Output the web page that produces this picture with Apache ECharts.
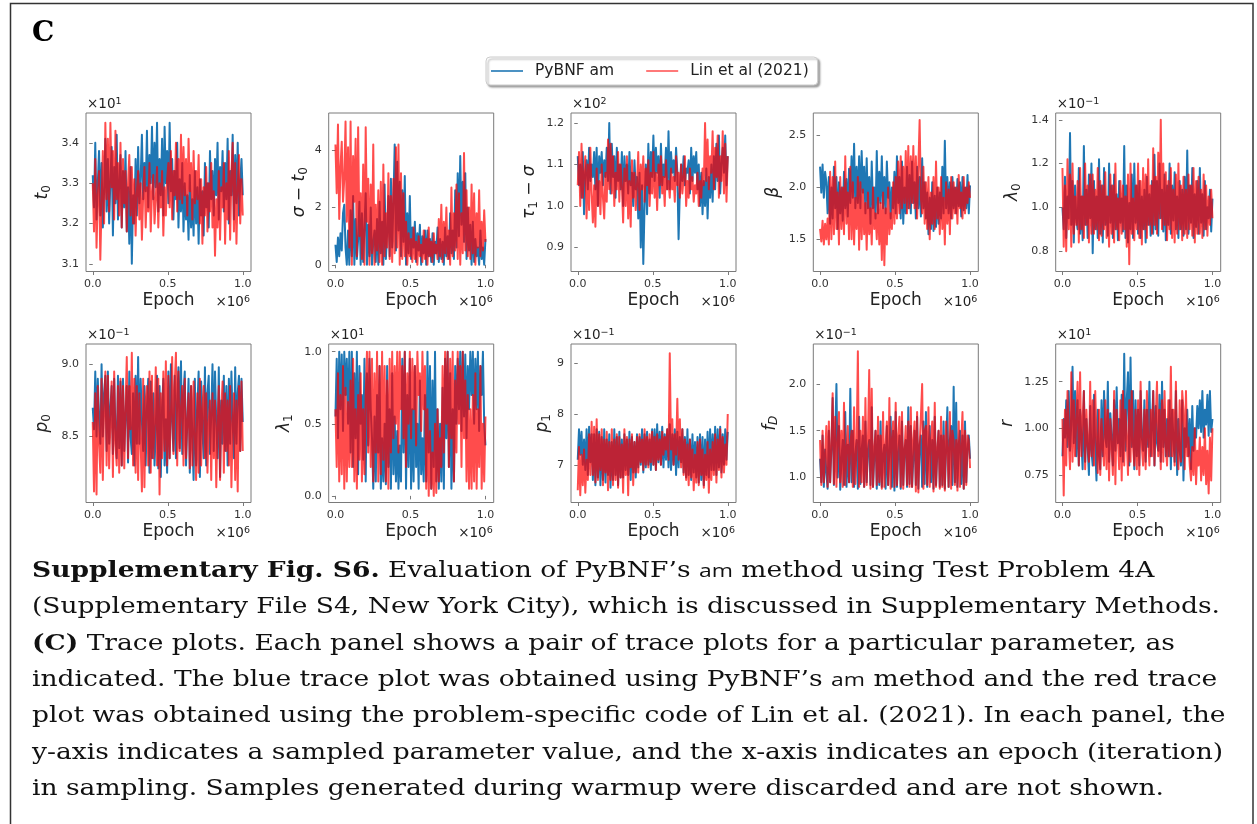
<!DOCTYPE html>
<html>
<head>
<meta charset="utf-8">
<title>Supplementary Fig. S6 (C) trace plots</title>
<script src="https://cdn.jsdelivr.net/npm/echarts@6/dist/echarts.min.js"></script>
<style>
  html, body { margin: 0; padding: 0; background: #ffffff; }
  #chart { width: 1257px; height: 824px; }
</style>
</head>
<body>
<div id="chart"></div>
<script>
// ---- sampled traces (every trace uses the same thinned epoch grid, in units of 1e6) ----
const nSamples = 120;

// t0 (x10^1)
const t0_pybnf = [
  3.32,3.24,3.40,3.21,3.30,3.38,3.22,3.35,3.19,3.28,3.41,3.23,
  3.36,3.20,3.31,3.39,3.17,3.34,3.25,3.42,3.21,3.30,3.37,3.19,
  3.33,3.24,3.38,3.18,3.29,3.15,3.34,3.10,3.27,3.20,3.36,3.22,
  3.39,3.25,3.31,3.42,3.26,3.35,3.28,3.43,3.24,3.37,3.30,3.44,
  3.26,3.40,3.29,3.45,3.23,3.36,3.27,3.41,3.22,3.44,3.30,3.38,
  3.25,3.45,3.28,3.36,3.21,3.33,3.26,3.40,3.19,3.31,3.23,3.35,
  3.18,3.30,3.21,3.27,3.16,3.32,3.19,3.26,3.17,3.33,3.20,3.29,
  3.15,3.31,3.22,3.28,3.17,3.35,3.24,3.30,3.19,3.38,3.26,3.33,
  3.22,3.36,3.27,3.40,3.21,3.34,3.28,3.38,3.23,3.35,3.26,3.41,
  3.20,3.33,3.27,3.42,3.21,3.37,3.25,3.40,3.22,3.30,3.36,3.27
];
const t0_lin = [
  3.30,3.18,3.36,3.14,3.27,3.33,3.11,3.25,3.38,3.20,3.45,3.26,
  3.41,3.23,3.45,3.29,3.38,3.21,3.43,3.26,3.35,3.22,3.40,3.19,
  3.36,3.25,3.33,3.18,3.30,3.37,3.22,3.34,3.20,3.31,3.17,3.28,
  3.33,3.21,3.30,3.16,3.27,3.34,3.19,3.29,3.23,3.35,3.18,3.28,
  3.32,3.20,3.26,3.34,3.19,3.30,3.24,3.33,3.17,3.29,3.22,3.31,
  3.35,3.24,3.38,3.21,3.33,3.27,3.40,3.23,3.36,3.26,3.42,3.25,
  3.39,3.27,3.36,3.22,3.41,3.28,3.35,3.21,3.38,3.25,3.33,3.26,
  3.37,3.20,3.31,3.15,3.29,3.22,3.34,3.18,3.30,3.23,3.35,3.19,
  3.28,3.12,3.26,3.19,3.33,3.16,3.29,3.24,3.35,3.15,3.30,3.21,
  3.38,3.16,3.32,3.40,3.18,3.35,3.15,3.29,3.37,3.20,3.31,3.22
];

// sigma - t0
const sigma_pybnf = [
  0.70,0.10,0.95,0.30,1.10,0.50,1.80,2.10,0.60,0.00,1.20,0.00,
  1.90,0.30,2.40,0.00,1.60,0.20,0.90,2.20,0.00,1.80,0.10,1.30,
  2.50,0.00,1.40,0.30,2.00,0.00,0.80,1.20,0.10,1.60,0.00,2.20,
  0.40,1.50,0.00,2.80,0.20,1.10,2.40,0.30,3.00,0.60,2.20,4.20,
  0.50,3.60,1.20,2.90,0.30,2.60,0.80,3.10,0.00,1.80,0.40,2.40,
  0.20,1.30,0.60,1.50,0.10,1.10,0.50,1.40,0.00,1.00,0.40,1.20,
  0.00,1.20,0.30,0.90,0.10,1.10,0.00,0.80,0.40,1.30,0.10,0.90,
  0.20,0.80,0.00,1.30,0.30,1.00,0.20,1.80,0.40,1.20,0.20,2.60,
  0.60,3.20,1.00,3.80,1.40,2.90,0.80,3.20,0.20,2.00,0.50,1.40,
  0.00,1.50,0.10,0.90,0.30,0.60,0.00,1.20,0.20,0.60,0.00,0.90
];
const sigma_lin = [
  4.20,2.50,4.90,1.60,3.40,4.30,2.20,3.00,5.00,1.50,4.10,0.60,
  5.00,0.00,3.80,2.20,4.40,0.30,4.80,1.00,2.50,0.20,3.50,0.00,
  4.80,1.50,3.00,0.00,2.80,0.40,4.20,0.00,2.10,0.50,2.60,0.10,
  2.90,0.00,3.50,0.30,1.80,0.60,3.20,0.20,2.40,0.10,3.00,0.40,
  4.10,0.60,4.20,0.00,3.20,0.20,2.50,0.30,1.50,0.00,1.10,0.30,
  0.90,0.10,1.30,0.20,0.80,0.00,1.00,0.30,0.70,0.10,1.20,0.20,
  0.90,0.00,1.30,0.30,0.80,0.10,1.10,0.40,0.70,0.20,1.60,0.30,
  2.10,0.10,1.50,0.40,2.00,0.20,1.20,0.00,2.70,0.30,1.80,0.50,
  2.80,0.20,2.50,0.00,1.80,0.40,3.90,0.50,2.60,0.30,2.00,0.20,
  2.80,0.40,2.50,0.00,1.80,0.60,2.60,0.30,1.50,0.50,1.90,0.80
];

// tau1 - sigma (x10^2)
const tau_pybnf = [
  1.12,1.05,1.10,1.02,1.13,0.98,1.08,1.11,1.04,1.14,1.06,1.10,
  1.07,1.13,1.04,1.14,1.00,1.12,1.08,1.13,1.05,1.11,1.07,1.14,
  1.06,1.20,1.03,1.15,1.07,1.12,1.02,1.14,1.06,1.10,1.04,1.13,
  1.00,1.12,1.06,1.10,1.03,1.13,1.05,1.08,1.00,1.11,1.04,1.07,
  0.97,1.08,0.90,1.05,0.86,1.00,1.10,0.98,1.15,1.03,1.13,1.07,
  1.17,1.06,1.14,1.08,1.12,1.02,1.15,1.05,1.10,1.07,1.14,1.04,
  1.18,1.04,1.13,1.08,1.11,1.06,1.14,1.08,0.92,1.04,1.10,1.06,
  1.12,1.05,1.09,1.08,1.11,1.03,1.14,1.06,1.12,1.08,1.13,1.04,
  1.10,1.00,1.08,0.98,1.06,1.00,1.09,0.97,1.07,1.02,1.10,1.01,
  1.12,1.04,1.15,1.06,1.17,1.03,1.10,1.14,1.08,1.17,1.05,1.12
];
const tau_lin = [
  1.05,1.13,1.00,1.15,1.02,1.08,1.12,0.97,1.10,0.99,1.14,1.03,
  0.96,1.05,0.95,1.09,1.00,1.06,0.98,1.10,1.02,0.97,1.08,1.01,
  1.16,1.04,1.15,1.03,1.12,1.00,1.08,1.04,1.13,1.01,1.10,1.05,
  0.96,1.09,1.00,1.12,0.97,1.06,0.95,1.11,1.02,1.08,0.99,1.05,
  1.13,0.99,1.10,1.04,1.12,1.01,1.09,1.05,1.11,1.00,1.08,1.03,
  1.13,1.02,1.08,0.99,1.10,1.05,1.12,1.03,1.07,1.00,1.11,1.04,
  1.06,1.02,1.09,1.04,1.07,1.01,1.12,1.05,1.08,1.02,1.10,1.03,
  1.07,1.12,1.00,1.06,1.02,1.09,1.04,1.07,1.01,1.05,1.03,1.08,
  1.00,1.06,1.02,1.09,1.05,1.20,1.06,1.16,1.04,1.12,1.08,1.18,
  1.04,1.14,1.07,1.17,1.02,1.12,1.06,1.18,1.03,1.15,1.01,1.12
];

// beta
const beta_pybnf = [
  2.20,1.95,2.22,1.90,2.15,2.05,1.75,2.10,1.65,2.00,1.70,2.20,
  1.80,2.10,1.60,2.05,1.75,2.00,1.68,2.15,1.80,2.08,1.72,2.18,
  1.85,2.30,1.90,2.42,1.80,2.20,1.85,2.30,1.80,2.35,1.95,2.20,
  1.75,2.28,1.80,2.10,1.65,2.25,1.80,2.00,1.70,2.35,1.75,2.15,
  1.85,2.30,1.80,2.10,1.75,2.25,1.90,2.05,1.70,2.00,1.80,2.15,
  1.75,2.30,1.85,2.10,1.70,2.25,1.65,2.00,1.75,2.20,1.80,2.12,
  1.75,2.25,1.85,2.05,1.70,2.20,1.80,2.10,1.72,2.28,1.80,2.05,
  1.70,1.95,1.55,1.90,1.60,2.05,1.58,1.92,1.62,2.00,1.65,1.95,
  1.70,2.20,1.75,2.45,1.80,2.10,1.75,2.05,1.70,2.10,1.80,2.00,
  1.75,2.08,1.82,2.05,1.72,2.10,1.78,2.00,1.80,2.12,1.75,2.02
];
const beta_lin = [
  1.60,1.48,1.68,1.45,1.65,1.50,1.70,1.45,2.15,1.50,2.10,1.55,
  2.25,1.60,1.95,1.45,2.10,1.60,2.00,1.55,2.30,1.65,1.95,1.50,
  2.20,1.50,2.05,1.45,1.90,1.60,2.10,1.40,2.05,1.50,1.98,1.55,
  1.85,1.40,1.95,1.55,1.80,1.45,2.00,1.60,1.75,1.50,1.90,1.45,
  1.85,1.30,1.95,1.25,1.80,1.45,2.00,1.55,1.75,1.60,2.05,1.65,
  2.10,1.70,2.25,1.75,2.30,1.80,2.20,1.85,2.35,1.75,2.40,1.80,
  2.30,1.85,2.40,1.80,2.30,1.70,2.20,2.65,1.90,1.75,2.20,1.65,
  2.05,1.60,2.10,1.50,1.95,1.65,2.10,1.60,2.25,1.70,2.00,1.55,
  2.10,1.60,1.90,1.45,2.05,1.65,1.98,1.55,2.10,1.70,2.05,1.75,
  2.00,1.65,2.12,1.80,1.95,1.70,2.10,1.75,2.00,1.85,2.05,1.90
];

// lambda0 (x10^-1)
const lambda0_pybnf = [
  1.00,0.90,1.14,0.86,1.05,0.95,1.34,0.92,1.12,0.84,1.10,0.95,
  0.90,1.18,0.88,1.05,0.85,1.28,0.92,1.08,0.86,1.15,0.95,1.20,
  0.79,1.12,0.90,1.05,0.86,1.22,0.88,1.10,0.84,1.18,0.92,1.05,
  0.87,1.20,0.93,1.10,0.86,1.15,0.90,1.06,0.85,1.12,0.93,1.04,
  0.89,1.28,0.86,1.10,0.84,1.02,0.90,1.15,0.86,1.20,0.93,1.10,
  0.88,1.12,0.86,1.05,0.90,1.08,0.84,1.14,0.92,1.06,0.87,1.12,
  0.88,1.24,0.90,1.12,0.87,1.20,0.95,1.08,0.89,1.15,0.85,1.10,
  0.92,1.20,0.88,1.10,0.94,1.16,0.90,1.05,0.86,1.12,0.90,1.08,
  0.87,1.14,0.90,1.26,0.88,1.10,0.93,1.18,0.86,1.06,0.91,1.12,
  0.88,1.18,0.93,1.06,0.87,1.12,0.90,1.00,0.95,1.08,0.89,1.04
];
const lambda0_lin = [
  1.18,0.82,1.10,0.80,1.22,0.90,1.15,0.82,1.20,0.88,1.05,0.92,
  1.12,0.84,1.18,0.90,1.05,0.86,1.20,0.92,1.10,0.84,1.15,0.88,
  1.15,0.88,1.08,0.90,1.18,0.85,1.12,0.87,1.10,0.90,1.16,0.86,
  1.05,0.82,1.15,0.88,1.10,0.84,1.20,0.90,1.04,0.85,1.12,0.88,
  1.10,0.90,1.05,0.82,1.15,0.74,1.20,0.88,1.04,0.85,1.10,0.90,
  1.20,0.86,1.12,0.83,1.18,0.90,1.15,0.86,1.22,0.92,1.10,0.88,
  1.27,0.92,1.14,0.88,1.25,0.95,1.40,0.90,1.20,0.92,1.16,0.85,
  1.12,0.90,1.18,0.86,1.08,0.84,1.15,0.88,1.20,0.90,1.10,0.85,
  1.14,0.88,1.08,0.86,1.15,0.90,1.10,0.87,1.18,0.84,1.12,0.88,
  1.14,0.88,1.08,0.86,1.15,0.90,1.10,0.87,1.05,0.92,1.08,0.95
];

// p0 (x10^-1)
const p0_pybnf = [
  8.70,8.55,8.95,8.50,8.90,8.62,8.45,9.00,8.50,8.80,8.92,8.40,
  8.95,8.45,8.70,8.85,8.38,8.90,8.55,8.35,8.92,8.42,8.88,8.30,
  8.90,8.40,8.65,8.85,8.32,8.95,8.50,8.38,8.80,8.30,8.92,8.45,
  9.05,8.45,8.90,8.60,8.40,8.85,8.30,8.70,8.90,8.25,8.88,8.35,
  8.80,8.30,8.55,8.92,8.28,8.85,8.22,8.70,8.90,8.30,8.62,8.25,
  8.95,8.35,9.00,8.60,8.40,8.92,8.35,8.75,8.98,8.42,9.02,8.38,
  8.80,8.95,8.30,8.60,8.90,8.25,8.85,8.50,8.20,8.90,8.30,8.70,
  8.95,8.22,8.88,8.55,8.35,8.98,8.30,8.80,8.92,8.38,8.65,9.00,
  8.40,8.95,8.60,8.35,8.98,8.22,8.75,8.45,8.92,8.40,8.85,8.30,
  8.90,8.45,8.95,8.60,8.35,8.98,8.45,8.80,8.92,8.40,8.90,8.60
];
const p0_lin = [
  8.60,8.12,8.80,8.10,8.85,8.45,8.25,8.90,8.20,8.70,8.95,8.30,
  8.92,8.28,8.60,8.88,8.22,8.95,8.45,8.30,8.85,8.25,8.90,8.30,
  8.85,8.28,8.70,9.05,8.35,8.85,8.55,9.08,8.30,8.90,8.25,8.85,
  8.20,8.80,8.45,8.12,8.90,8.15,8.75,8.85,8.30,8.95,8.25,8.92,
  8.35,8.60,8.98,8.30,8.90,8.10,8.80,8.35,8.95,8.40,9.02,8.30,
  8.92,8.35,8.65,9.05,8.38,8.85,9.08,8.30,8.95,8.40,8.70,8.85,
  8.30,8.90,8.35,8.60,8.80,8.28,8.85,8.30,8.88,8.50,8.20,8.80,
  8.25,8.90,8.30,8.70,8.85,8.35,8.80,8.25,8.60,8.75,8.20,8.80,
  8.35,8.75,8.15,8.60,8.85,8.20,8.70,8.88,8.25,8.80,8.40,8.75,
  8.30,8.85,8.15,8.60,8.80,8.20,8.75,8.12,8.85,8.40,8.88,8.40
];

// lambda1 (x10^1)
const lambda1_pybnf = [
  0.55,0.95,0.40,1.00,0.60,0.98,0.45,1.00,0.70,0.95,0.50,1.00,
  0.30,1.00,0.20,0.85,0.40,1.00,0.15,0.90,0.50,0.70,0.25,0.95,
  0.10,0.85,0.35,0.95,0.60,0.40,0.05,0.55,0.10,0.70,0.30,0.90,
  0.05,0.40,0.10,0.50,0.08,0.90,0.20,0.60,0.05,0.85,0.15,0.55,
  0.10,0.45,0.05,0.35,0.10,0.95,0.30,1.00,0.05,0.70,0.20,0.95,
  0.05,0.60,0.10,0.90,0.20,0.50,0.05,0.80,0.15,0.40,0.10,0.70,
  0.10,1.00,0.30,0.90,0.05,0.80,0.20,1.00,0.10,0.60,0.05,0.50,
  0.10,0.75,0.05,0.95,0.40,1.00,0.20,0.85,0.05,0.60,0.10,0.90,
  0.50,0.95,0.60,1.00,0.45,1.00,0.55,0.98,0.40,0.90,0.60,1.00,
  0.70,1.00,0.50,0.95,0.60,1.00,0.45,0.90,0.70,1.00,0.50,0.35
];
const lambda1_lin = [
  0.60,0.20,0.85,0.10,0.70,0.15,0.90,0.05,0.75,0.10,0.65,0.20,
  0.80,0.20,0.95,0.10,0.60,0.05,0.70,0.25,0.85,0.10,0.60,0.15,
  0.70,1.00,0.30,1.00,0.20,0.95,0.10,0.85,0.30,1.00,0.10,0.90,
  0.15,1.00,0.25,0.90,0.10,0.80,0.05,0.95,0.30,1.00,0.40,0.90,
  0.50,1.00,0.30,1.00,0.60,0.90,0.40,1.00,0.20,0.85,0.50,1.00,
  0.40,0.95,0.60,0.90,0.35,1.00,0.70,0.85,0.45,1.00,0.60,0.90,
  0.05,0.60,0.00,0.45,0.05,0.30,0.00,0.50,0.02,0.60,0.10,0.40,
  0.20,0.90,0.30,1.00,0.50,1.00,0.20,0.95,0.40,1.00,0.10,0.80,
  0.30,1.00,0.50,0.90,0.20,1.00,0.40,0.80,0.10,0.70,0.05,0.60,
  0.05,0.70,0.10,0.85,0.05,0.60,0.20,0.90,0.05,0.50,0.10,0.55
];

// p1 (x10^-1)
const p1_pybnf = [
  7.10,7.70,7.20,7.65,7.00,7.50,6.90,7.70,6.80,7.75,7.05,7.60,
  6.70,7.60,6.60,7.70,6.75,7.65,6.60,7.55,6.70,7.70,6.65,7.50,
  6.80,7.60,6.55,7.45,6.70,7.70,6.80,7.55,6.60,7.65,6.75,7.50,
  6.75,7.60,6.90,7.50,6.80,7.65,6.70,7.55,6.85,7.45,6.75,7.60,
  6.95,7.55,7.00,7.70,6.85,7.60,6.95,7.65,7.00,7.50,6.90,7.70,
  7.00,7.70,6.90,7.80,7.05,7.65,7.00,7.75,6.95,7.60,7.10,7.70,
  6.95,7.80,6.90,7.60,7.00,7.70,6.80,7.65,6.95,7.55,7.05,7.70,
  6.85,7.55,6.75,7.70,6.80,7.50,6.70,7.60,6.85,7.45,6.75,7.55,
  6.65,7.60,6.70,7.55,6.60,7.50,6.80,7.65,6.75,7.70,6.90,7.60,
  6.90,7.75,6.80,7.70,6.95,7.75,6.85,7.60,7.00,7.70,7.10,7.65
];
const p1_lin = [
  6.50,7.35,6.40,7.20,6.60,7.30,6.45,7.10,6.70,7.60,6.80,7.85,
  6.80,7.75,6.65,7.90,6.70,7.60,6.90,7.70,6.60,7.50,6.85,7.65,
  6.50,7.45,6.70,7.70,6.60,7.50,6.70,7.60,6.55,7.55,6.75,7.40,
  6.45,7.70,6.80,7.55,6.40,7.50,6.95,7.60,6.60,7.45,6.85,7.55,
  6.85,7.60,7.05,7.50,6.90,7.70,7.00,7.55,6.95,7.60,7.05,7.65,
  7.00,7.55,6.90,7.60,7.10,7.50,7.00,7.65,7.20,7.55,7.30,7.70,
  7.10,9.20,7.30,7.90,7.00,7.60,7.20,8.30,7.10,7.90,6.95,7.70,
  6.80,7.50,6.70,7.40,6.60,7.50,6.75,7.30,6.50,7.20,6.65,7.45,
  6.60,7.50,6.80,7.30,6.55,7.20,6.70,7.45,6.45,7.30,6.70,7.45,
  6.80,7.60,6.65,7.50,6.90,7.70,6.75,7.55,6.85,7.40,7.00,8.00
];

// f_D (x10^-1)
const fD_pybnf = [
  1.20,0.95,1.45,0.90,1.30,1.05,0.88,1.50,0.95,1.30,1.85,0.92,
  1.40,2.00,1.00,1.55,0.87,1.20,1.40,0.92,1.70,0.90,1.35,0.95,
  1.95,0.95,1.50,0.90,1.25,1.40,0.88,1.65,0.93,1.30,1.45,0.90,
  1.60,0.95,1.30,1.40,0.92,1.75,0.90,1.20,1.50,0.88,1.45,0.92,
  1.60,0.90,1.25,1.35,0.88,1.55,0.92,1.30,1.65,0.90,1.50,0.86,
  1.70,0.90,1.25,1.45,0.88,1.60,0.92,1.30,1.40,0.90,1.75,0.93,
  1.55,0.90,1.20,1.50,0.92,1.65,0.88,1.35,1.45,0.90,1.60,0.93,
  1.70,0.90,1.30,1.55,0.95,1.40,0.88,1.65,0.92,1.25,1.50,0.90,
  1.45,0.92,1.60,0.88,1.30,1.75,0.90,1.40,1.55,0.92,1.97,0.95,
  1.80,0.90,1.35,1.50,0.93,1.45,0.88,1.60,0.95,1.30,1.45,1.20
];
const fD_lin = [
  1.40,0.92,1.50,0.95,1.25,1.55,0.90,1.60,0.95,1.35,1.90,0.93,
  1.65,0.90,1.40,1.70,0.95,1.50,0.90,1.80,0.92,1.30,1.55,0.95,
  1.35,1.50,0.90,1.75,0.93,1.30,2.35,0.90,1.50,0.95,1.65,0.90,
  1.85,0.92,1.40,2.15,0.88,1.95,0.90,1.30,1.50,0.92,1.65,0.95,
  1.45,0.88,1.70,0.90,1.35,1.60,0.92,1.85,0.88,1.40,1.60,0.90,
  1.80,0.92,1.45,1.65,0.90,1.70,0.88,1.30,1.55,0.92,1.60,0.90,
  1.75,0.90,1.40,1.60,0.85,1.70,0.84,1.35,1.65,2.00,0.88,1.50,
  1.55,0.92,1.75,0.90,1.40,1.60,0.85,1.80,0.90,1.30,1.50,0.88,
  1.65,0.90,1.45,0.86,1.60,1.30,0.90,1.70,0.88,1.50,1.40,0.92,
  1.40,0.86,1.60,0.90,1.35,1.70,0.88,1.50,0.92,1.45,1.40,1.10
];

// r (x10^1)
const r_pybnf = [
  0.85,1.05,0.95,1.15,0.90,1.20,0.88,1.02,1.33,0.92,1.20,0.85,
  1.15,0.80,1.10,0.95,0.78,1.20,0.82,1.05,0.90,0.75,1.12,0.88,
  0.80,1.18,0.90,0.72,1.10,0.85,0.78,1.15,0.85,1.20,0.95,0.90,
  1.25,0.82,1.08,0.95,0.80,1.15,0.88,1.22,0.92,1.05,0.85,1.18,
  0.82,1.40,0.88,1.15,1.30,0.80,1.38,0.90,1.20,0.78,1.15,0.85,
  1.10,0.80,1.20,0.95,0.88,1.15,0.82,1.10,0.90,1.25,0.85,1.00,
  1.20,0.80,1.12,0.92,0.88,1.18,0.82,1.25,0.90,1.10,0.85,1.05,
  0.85,1.15,0.78,1.10,0.95,0.82,1.20,0.75,1.05,0.88,0.80,1.15,
  0.72,1.00,0.90,1.10,0.85,1.05,0.78,1.12,0.88,1.00,0.95,1.12,
  1.00,1.15,0.98,1.20,0.95,1.10,1.02,1.18,0.96,1.20,0.98,1.05
];
const r_lin = [
  1.05,0.64,1.10,0.80,1.20,0.95,0.78,1.30,0.82,1.15,0.85,1.05,
  1.25,0.80,1.30,0.85,1.05,1.20,0.78,1.10,0.92,0.82,1.25,0.85,
  1.15,0.80,1.20,0.95,0.76,1.10,0.75,1.05,0.90,0.80,1.15,0.78,
  1.10,0.72,1.05,0.90,0.75,1.20,0.70,1.10,0.95,0.78,1.15,0.72,
  1.20,0.80,1.10,0.95,0.75,1.15,0.82,1.20,0.90,0.80,1.10,0.78,
  1.15,0.75,1.25,0.90,0.80,1.10,0.78,1.20,0.95,0.80,1.10,0.85,
  1.20,0.80,1.05,1.25,0.85,1.10,0.78,1.15,0.82,1.20,0.90,0.80,
  1.15,0.85,1.33,0.85,1.10,0.80,1.25,0.90,0.78,1.15,0.82,1.20,
  1.10,0.78,1.20,0.85,0.95,0.80,0.72,0.90,0.75,1.00,0.70,0.88,
  0.80,0.95,0.72,0.90,0.75,1.00,0.70,0.88,0.65,0.95,0.72,1.00
];

// ---- tick labels ----
const epochTicks = ['0.0', '0.5', '1.0'];
const t0Ticks = ['3.1', '3.2', '3.3', '3.4'];
const sigmaTicks = ['0', '2', '4'];
const tauTicks = ['0.9', '1.0', '1.1', '1.2'];
const betaTicks = ['1.5', '2.0', '2.5'];
const lambda0Ticks = ['0.8', '1.0', '1.2', '1.4'];
const p0Ticks = ['8.5', '9.0'];
const lambda1Ticks = ['0.0', '0.5', '1.0'];
const p1Ticks = ['7', '8', '9'];
const fDTicks = ['1.0', '1.5', '2.0'];
const rTicks = ['0.75', '1.00', '1.25'];

// ---- caption ----
const captionLines = [
  '{b|Supplementary Fig. S6.} Evaluation of PyBNF\u2019s {s|am} method using Test Problem 4A',
  '(Supplementary File S4, New York City), which is discussed in Supplementary Methods.',
  '{b|(C)} Trace plots. Each panel shows a pair of trace plots for a particular parameter, as',
  'indicated. The blue trace plot was obtained using PyBNF\u2019s {s|am} method and the red trace',
  'plot was obtained using the problem-specific code of Lin et al. (2021). In each panel, the',
  'y-axis indicates a sampled parameter value, and the x-axis indicates an epoch (iteration)',
  'in sampling. Samples generated during warmup were discarded and are not shown.'
];

// ---- panel definitions: label (rich math text), axis offset exponent, y range ----
const panels = [
  { label: '{i|t}{s|0}',              exp: '1',  yRange: [3.081, 3.474], ticks: t0Ticks,      a: t0_pybnf,      b: t0_lin,      labelGap: 43 },
  { label: '{i|\u03c3}{n| \u2212 }{i|t}{s|0}', exp: null, yRange: [-0.235, 5.3], ticks: sigmaTicks, a: sigma_pybnf, b: sigma_lin, labelGap: 29 },
  { label: '{i|\u03c4}{s|1}{n| \u2212 }{i|\u03c3}', exp: '2', yRange: [0.842, 1.224], ticks: tauTicks, a: tau_pybnf, b: tau_lin, labelGap: 41 },
  { label: '{i|\u03b2}',              exp: null, yRange: [1.19, 2.717],  ticks: betaTicks,    a: beta_pybnf,    b: beta_lin,    labelGap: 40 },
  { label: '{i|\u03bb}{s|0}',         exp: '\u22121', yRange: [0.707, 1.431], ticks: lambda0Ticks, a: lambda0_pybnf, b: lambda0_lin, labelGap: 43 },
  { label: '{i|p}{s|0}',              exp: '\u22121', yRange: [8.044, 9.14],  ticks: p0Ticks,      a: p0_pybnf,      b: p0_lin,      labelGap: 43 },
  { label: '{i|\u03bb}{s|1}',         exp: '1',  yRange: [-0.046, 1.053], ticks: lambda1Ticks, a: lambda1_pybnf, b: lambda1_lin, labelGap: 44 },
  { label: '{i|p}{s|1}',              exp: '\u22121', yRange: [6.258, 9.38],  ticks: p1Ticks,      a: p1_pybnf,      b: p1_lin,      labelGap: 28 },
  { label: '{i|f}{si|D}',             exp: '\u22121', yRange: [0.733, 2.427], ticks: fDTicks,      a: fD_pybnf,      b: fD_lin,      labelGap: 43 },
  { label: '{i|r}',                   exp: '1',  yRange: [0.602, 1.452], ticks: rTicks,       a: r_pybnf,       b: r_lin,       labelGap: 48 }
];

// ---- layout ----
const colLeft = [86, 328.7, 571, 813.3, 1055.7];
const rowTop = [113, 344];
const boxW = 165, boxH = 158.5;
const xRange = [-0.045, 1.055];

const blue = '#1f77b4';
const red = '#ff0000';
const ink = '#222222';
const tickInk = '#333333';
const frameInk = '#7a7a7a';
const sans = 'DejaVu Sans';
const serif = 'DejaVu Serif';
const traceWidth = 2.0;

const epochs = Array.from({ length: nSamples }, (_, i) => i / (nSamples - 1));

function labelFormatter(labels) {
  const values = labels.map(Number);
  return v => {
    const k = values.findIndex(t => Math.abs(t - v) < 1e-9);
    return k >= 0 ? labels[k] : '';
  };
}

const mathRich = {
  i:  { fontFamily: sans, fontStyle: 'italic', fontSize: 17, lineHeight: 20, fill: ink },
  n:  { fontFamily: sans, fontSize: 17, lineHeight: 20, fill: ink },
  s:  { fontFamily: sans, fontSize: 12, lineHeight: 9, verticalAlign: 'bottom', fill: ink },
  si: { fontFamily: sans, fontStyle: 'italic', fontSize: 12, lineHeight: 9, verticalAlign: 'bottom', fill: ink }
};
const offsetRich = {
  a: { fontFamily: sans, fontSize: 13.5, lineHeight: 16, fill: ink },
  e: { fontFamily: sans, fontSize: 9.5, lineHeight: 9, verticalAlign: 'top', fill: ink }
};

const grids = [], xAxes = [], yAxes = [], series = [], graphics = [];

panels.forEach((p, k) => {
  const left = colLeft[k % 5];
  const top = rowTop[Math.floor(k / 5)];
  grids.push({
    left: left, top: top, width: boxW, height: boxH,
    show: true, borderColor: frameInk, borderWidth: 1, backgroundColor: 'transparent'
  });
  const xVals = epochTicks.map(Number);
  xAxes.push({
    type: 'value', gridIndex: k, min: xRange[0], max: xRange[1],
    axisLine: { show: false }, splitLine: { show: false },
    axisTick: { show: true, length: 3.5, lineStyle: { color: frameInk, width: 1 }, customValues: xVals },
    axisLabel: { customValues: xVals, formatter: labelFormatter(epochTicks), fontFamily: sans, fontSize: 11, color: tickInk, margin: 7 },
    name: 'Epoch', nameLocation: 'middle', nameGap: 21,
    nameTextStyle: { fontFamily: sans, fontSize: 17, color: ink }
  });
  const yVals = p.ticks.map(Number);
  yAxes.push({
    type: 'value', gridIndex: k, min: p.yRange[0], max: p.yRange[1],
    axisLine: { show: false }, splitLine: { show: false },
    axisTick: { show: true, length: 3.5, lineStyle: { color: frameInk, width: 1 }, customValues: yVals },
    axisLabel: { customValues: yVals, formatter: labelFormatter(p.ticks), fontFamily: sans, fontSize: 11, color: tickInk, margin: 7 }
  });
  series.push({
    name: 'PyBNF am', type: 'line', xAxisIndex: k, yAxisIndex: k,
    data: p.a.map((v, i) => [epochs[i], v]),
    symbol: 'none', showSymbol: false, silent: true, z: 2,
    lineStyle: { color: blue, width: traceWidth, join: 'round' }, itemStyle: { color: blue }
  });
  series.push({
    name: 'Lin et al (2021)', type: 'line', xAxisIndex: k, yAxisIndex: k,
    data: p.b.map((v, i) => [epochs[i], v]),
    symbol: 'none', showSymbol: false, silent: true, z: 3,
    lineStyle: { color: red, width: traceWidth, opacity: 0.7, join: 'round' }, itemStyle: { color: red, opacity: 0.7 }
  });

  // rotated y label
  graphics.push({
    type: 'text', x: left - p.labelGap, y: top + boxH / 2, rotation: Math.PI / 2, silent: true,
    style: { text: p.label, rich: mathRich, align: 'center', verticalAlign: 'middle', fontFamily: sans, fontSize: 17, fill: ink }
  });
  // y offset (scale) text above the frame
  if (p.exp) {
    graphics.push({
      type: 'text', x: left + 1, y: top - 0.5, silent: true,
      style: { text: '{a|\u00d710}{e|' + p.exp + '}', rich: offsetRich, align: 'left', verticalAlign: 'bottom', fill: ink }
    });
  }
  // x offset text at the lower right
  graphics.push({
    type: 'text', x: left + boxW - 1, y: top + boxH + 39, silent: true,
    style: { text: '{a|\u00d710}{e|6}', rich: offsetRich, align: 'right', verticalAlign: 'bottom', fill: ink }
  });
});

// outer frame and panel letter
graphics.push({
  type: 'rect', silent: true, z: 0,
  shape: { x: 10.5, y: 3.5, width: 1242.5, height: 840 },
  style: { fill: 'none', stroke: '#333333', lineWidth: 1.5 }
});
graphics.push({
  type: 'text', x: 32, y: 34, silent: true,
  style: { text: 'C', fontFamily: serif, fontWeight: 'bold', fontSize: 28, fill: '#000', align: 'left', verticalAlign: 'middle' }
});

// caption: one common horizontal scale so the column fills the frame width
const captionSize = 22;
const measure = document.createElement('canvas').getContext('2d');
measure.font = captionSize + 'px "' + serif + '"';
const captionScale = 1188 / measure.measureText(captionLines[1]).width;
const captionBaselines = [579, 615, 652, 688, 724, 761, 797];
const captionRich = {
  b: { fontFamily: serif, fontWeight: 'bold', fontSize: captionSize, fill: '#111' },
  s: { fontFamily: 'Open Sans', fontSize: 19, fill: '#111' }
};
captionLines.forEach((line, j) => {
  graphics.push({
    type: 'text', x: 32, y: captionBaselines[j] - 0.35 * captionSize, scaleX: captionScale, silent: true,
    style: { text: line, rich: captionRich, fontFamily: serif, fontSize: captionSize, fill: '#111', align: 'left', verticalAlign: 'middle' }
  });
});

const chart = echarts.init(document.getElementById('chart'), null, { renderer: 'canvas' });
chart.setOption({
  animation: false,
  backgroundColor: '#ffffff',
  legend: {
    left: 486, top: 57, orient: 'horizontal',
    icon: 'rect', itemWidth: 32, itemHeight: 1.6, itemGap: 32,
    padding: [5, 9, 5, 5],
    backgroundColor: '#ffffff', borderColor: '#cccccc', borderWidth: 1, borderRadius: 4,
    shadowColor: 'rgba(0,0,0,0.35)', shadowBlur: 2, shadowOffsetX: 2, shadowOffsetY: 2,
    selectedMode: false,
    textStyle: { fontFamily: sans, fontSize: 15.5, color: ink, lineHeight: 18, padding: [0, 0, 0, 7] },
    data: [
      { name: 'PyBNF am', itemStyle: { color: blue, borderWidth: 0 } },
      { name: 'Lin et al (2021)', itemStyle: { color: red, opacity: 0.7, borderWidth: 0 } }
    ]
  },
  grid: grids,
  xAxis: xAxes,
  yAxis: yAxes,
  series: series,
  graphic: { elements: graphics }
});
</script>
</body>
</html>
